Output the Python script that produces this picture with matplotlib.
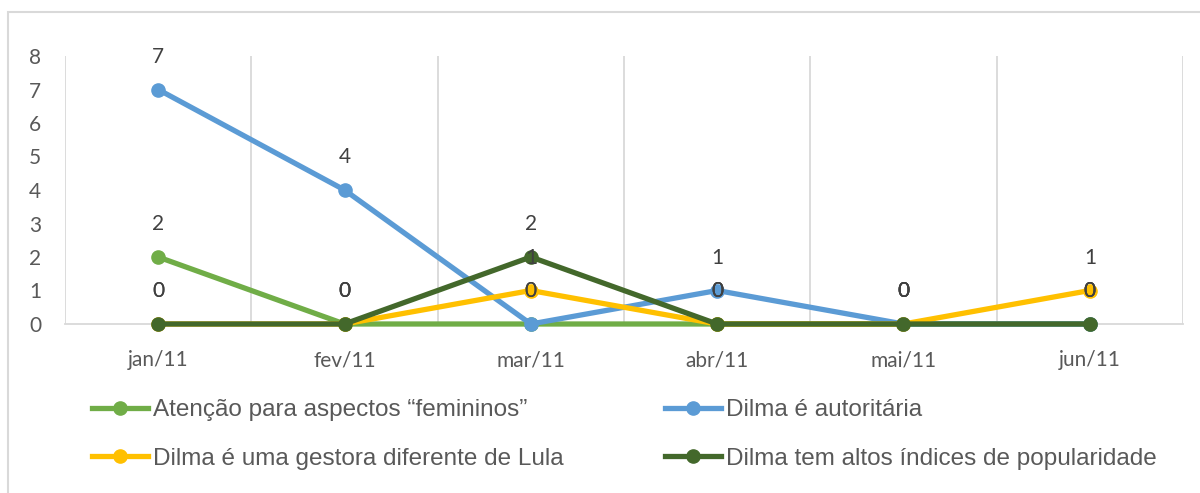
import matplotlib
matplotlib.use("Agg")
import matplotlib.pyplot as plt
from matplotlib.lines import Line2D
from matplotlib.patches import Rectangle

months = ["jan/11", "fev/11", "mar/11", "abr/11", "mai/11", "jun/11"]
series_names = [
    "Atenção para aspectos “femininos”",
    "Dilma é autoritária",
    "Dilma é uma gestora diferente de Lula",
    "Dilma tem altos índices de popularidade",
]
femininos = [2, 0, 0, 0, 0, 0]
autoritaria = [7, 4, 0, 1, 0, 0]
gestora = [0, 0, 1, 0, 0, 1]
popularidade = [0, 0, 2, 0, 0, 0]
y_ticks = [0, 1, 2, 3, 4, 5, 6, 7, 8]

colors = ["#70AD47", "#5B9BD5", "#FFC000", "#43682B"]
all_series = [femininos, autoritaria, gestora, popularidade]

W, H = 1200, 493
fig = plt.figure(figsize=(W / 100, H / 100), dpi=100)
ax = fig.add_axes([65 / W, 1 - 324 / H, (1183 - 65) / W, (324 - 56) / H])

tick_font = "Lato"
label_col = "#595959"

x = list(range(len(months)))
for s, c, name in zip(all_series, colors, series_names):
    ax.plot(x, s, color=c, lw=3.8, marker="o", ms=9.5, label=name,
            solid_capstyle="round", zorder=3, clip_on=False)

for s in all_series:
    for xi, v in zip(x, s):
        ax.annotate(str(v), (xi, v), xytext=(0, 23.5), textcoords="offset points",
                    ha="center", va="center", fontsize=15, color="#404040",
                    family=tick_font, zorder=5)

ax.set_xlim(-0.5, len(months) - 0.5)
ax.set_ylim(0, 8)
ax.set_yticks(y_ticks)
ax.set_xticks(x)
ax.set_xticklabels(months)
ax.tick_params(axis="both", length=0, labelsize=15, labelcolor=label_col)
ax.tick_params(axis="y", pad=17)
ax.tick_params(axis="x", pad=19)
for lab in ax.get_xticklabels() + ax.get_yticklabels():
    lab.set_family(tick_font)

# vertical gridlines at category boundaries
ax.set_xticks([i - 0.5 for i in range(len(months) + 1)], minor=True)
ax.tick_params(axis="x", which="minor", length=0)
ax.grid(True, axis="x", which="minor", color="#D9D9D9", lw=1.3)
ax.grid(False, axis="x", which="major")
ax.grid(False, axis="y")
for sp in ["top", "right", "left"]:
    ax.spines[sp].set_visible(False)
ax.spines["bottom"].set_color("#D9D9D9")
ax.spines["bottom"].set_linewidth(1.3)

# outer border
fig.patches.append(Rectangle((8 / W, -0.1), 1.2, 1 - 12 / H + 0.1,
                             transform=fig.transFigure, fill=False,
                             edgecolor="#D9D9D9", lw=1.5))

def handle(c):
    return Line2D([], [], color=c, lw=3.8, marker="o", ms=9.5)

leg_kw = dict(frameon=False, handlelength=2.3, handletextpad=0.2,
              labelspacing=1.1, borderpad=0, borderaxespad=0,
              prop={"family": "Liberation Sans", "size": 17.5})
leg1 = fig.legend([handle(colors[0]), handle(colors[2])],
                  [series_names[0], series_names[2]],
                  loc="upper left", bbox_to_anchor=(92 / W, 1 - 399 / H), **leg_kw)
for t in leg1.get_texts():
    t.set_color(label_col)
leg2 = fig.legend([handle(colors[1]), handle(colors[3])],
                  [series_names[1], series_names[3]],
                  loc="upper left", bbox_to_anchor=(665 / W, 1 - 399 / H), **leg_kw)
for t in leg2.get_texts():
    t.set_color(label_col)

fig.savefig("out.png", dpi=100)
